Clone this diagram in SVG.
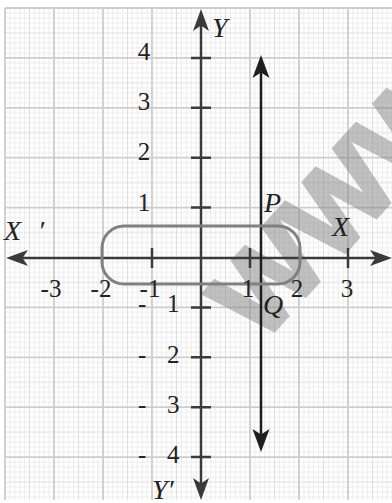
<svg xmlns="http://www.w3.org/2000/svg" width="392" height="503" viewBox="0 0 392 503">
<defs>
<pattern id="minor" patternUnits="userSpaceOnUse" x="5" y="8" width="49" height="49.9">
<path d="M4.9 0V49.9M9.8 0V49.9M14.7 0V49.9M19.6 0V49.9M29.4 0V49.9M34.3 0V49.9M39.2 0V49.9M44.1 0V49.9M0 4.99H49M0 9.98H49M0 14.97H49M0 19.96H49M0 29.94H49M0 34.93H49M0 39.92H49M0 44.91H49" stroke="#ececec" stroke-width="1" fill="none"/>
<path d="M24.5 0V49.9M0 24.95H49" stroke="#dedede" stroke-width="1" fill="none"/>
</pattern>
<marker id="ahA" viewBox="-24 -9 26 18" refX="-6" refY="0" markerWidth="26" markerHeight="18" markerUnits="userSpaceOnUse" orient="auto-start-reverse">
<path d="M0,0 L-22,-8 L-16.5,0 L-22,8 Z" fill="#3a3a3a"/>
</marker>
<marker id="ahL" viewBox="-24 -9 26 18" refX="-6" refY="0" markerWidth="26" markerHeight="18" markerUnits="userSpaceOnUse" orient="auto-start-reverse">
<path d="M0,0 L-23,-8.5 L-17.5,0 L-23,8.5 Z" fill="#1e1e1e"/>
</marker>
<style>
.num{font-family:"Liberation Serif","Times New Roman",serif;font-size:25px;fill:#222}
.lab{font-family:"Liberation Serif","Times New Roman",serif;font-style:italic;font-size:28px;fill:#222}
.tick{stroke:#3a3a3a;stroke-width:2.5;fill:none}
</style>
</defs>
<g id="grid">
<rect x="5" y="8" width="387" height="492" fill="#fff"/>
<rect x="5" y="8" width="387" height="492" fill="url(#minor)"/>
<path d="M5 8V500M54 8V500M103 8V500M152 8V500M250 8V500M299 8V500M348 8V500M5 8H392M5 57.9H392M5 107.8H392M5 157.7H392M5 207.6H392M5 307.4H392M5 357.3H392M5 407.2H392M5 457.1H392" stroke="#cdcdcd" stroke-width="1.8" fill="none"/>
</g>
<g id="watermark" opacity="0.5">
<text transform="translate(261,345) rotate(-48)" font-family="Liberation Sans, Arial, sans-serif" font-weight="bold" font-size="112" fill="#858585" stroke="#858585" stroke-width="4" stroke-linejoin="miter">WWW</text>
</g>
<g id="connectors">
<line id="x-axis" x1="12" y1="258" x2="386" y2="258" stroke="#3a3a3a" stroke-width="2.5" marker-start="url(#ahA)" marker-end="url(#ahA)"/>
<line id="y-axis" x1="201" y1="494" x2="201" y2="15" stroke="#3a3a3a" stroke-width="2.5" marker-start="url(#ahA)" marker-end="url(#ahA)"/>
<line id="line-PQ" x1="261" y1="446" x2="261" y2="61" stroke="#1e1e1e" stroke-width="2.5" marker-start="url(#ahL)" marker-end="url(#ahL)"/>
<path class="tick" d="M191 57.9H211M191 107.8H211M191 157.7H211M191 207.6H211M191 307.4H211M191 357.3H211M191 407.2H211M191 457.1H211M152 248V268M250 248V268M348 248V268"/>
</g>
<g id="curve">
<rect x="102" y="226" width="198" height="58" rx="22" ry="22" fill="none" stroke="#808080" stroke-width="3"/>
</g>
<g id="labels">
<text class="num" x="144" y="60" text-anchor="middle">4</text>
<text class="num" x="144" y="110" text-anchor="middle">3</text>
<text class="num" x="144" y="160" text-anchor="middle">2</text>
<text class="num" x="144" y="211" text-anchor="middle">1</text>
<text class="num" y="312"><tspan x="138">-</tspan><tspan x="167">1</tspan></text>
<text class="num" y="363"><tspan x="138">-</tspan><tspan x="167">2</tspan></text>
<text class="num" y="413"><tspan x="138">-</tspan><tspan x="167">3</tspan></text>
<text class="num" y="463"><tspan x="138">-</tspan><tspan x="167">4</tspan></text>
<text class="num" x="51" y="297" text-anchor="middle">-3</text>
<text class="num" x="101" y="297" text-anchor="middle">-2</text>
<text class="num" x="150" y="297" text-anchor="middle">-1</text>
<text class="num" x="248" y="297" text-anchor="middle">1</text>
<text class="num" x="297" y="297" text-anchor="middle">2</text>
<text class="num" x="347" y="297" text-anchor="middle">3</text>
<text class="lab" x="212" y="37">Y</text>
<text class="lab" x="152" y="499">Y′</text>
<text class="lab" y="240"><tspan x="4">X</tspan><tspan x="38">′</tspan></text>
<text class="lab" x="332" y="236">X</text>
<text class="lab" x="264" y="212">P</text>
<text class="lab" x="263" y="314">Q</text>
</g>
</svg>
